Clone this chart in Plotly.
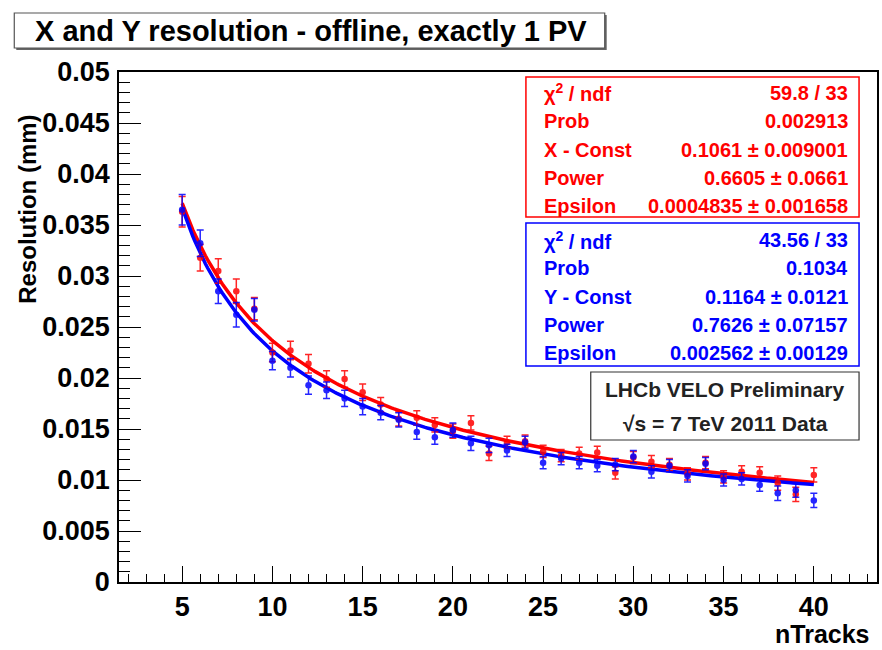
import numpy as np
import plotly.graph_objects as go

# nTracks bins
n_tracks = list(range(5, 41))

# X resolution (mm) per bin, with errors
res_x = [0.0363, 0.0318, 0.0305, 0.0285, 0.0268, 0.0225, 0.0227, 0.0214, 0.0199, 0.0199,
         0.0186, 0.0174, 0.0160, 0.0161, 0.0154, 0.0148, 0.0156, 0.0126, 0.0137, 0.0138,
         0.0128, 0.0124, 0.0126, 0.0127, 0.0107, 0.0122, 0.0118, 0.0115, 0.0106, 0.0117,
         0.0103, 0.0108, 0.0107, 0.0097, 0.0086, 0.0105]
err_x = [0.0015, 0.0013, 0.0012, 0.0012, 0.0011, 0.0009, 0.0009, 0.0009, 0.0008, 0.0008,
         0.0008, 0.0007, 0.0007, 0.0007, 0.0007, 0.0007, 0.0007, 0.0007, 0.0006, 0.0006,
         0.0006, 0.0006, 0.0006, 0.0006, 0.0006, 0.0006, 0.0006, 0.0006, 0.0006, 0.0006,
         0.0006, 0.0006, 0.0006, 0.0007, 0.0007, 0.0007]

# Y resolution (mm) per bin, with errors
res_y = [0.0365, 0.0332, 0.0285, 0.0262, 0.0267, 0.0217, 0.0210, 0.0193, 0.0188, 0.0180,
         0.0172, 0.0166, 0.0159, 0.0147, 0.0142, 0.0149, 0.0136, 0.0134, 0.0129, 0.0137,
         0.0117, 0.0121, 0.0117, 0.0114, 0.0115, 0.0123, 0.0108, 0.0114, 0.0104, 0.0116,
         0.0100, 0.0101, 0.0095, 0.0087, 0.0090, 0.0080]
err_y = [0.0015, 0.0013, 0.0012, 0.0012, 0.0011, 0.0009, 0.0009, 0.0009, 0.0008, 0.0008,
         0.0008, 0.0007, 0.0007, 0.0007, 0.0007, 0.0007, 0.0007, 0.0007, 0.0006, 0.0006,
         0.0006, 0.0006, 0.0006, 0.0006, 0.0006, 0.0006, 0.0006, 0.0006, 0.0006, 0.0006,
         0.0006, 0.0006, 0.0006, 0.0007, 0.0007, 0.0007]

# Fit results: sigma(n) = Const / n^Power + Epsilon
fit_x = {"const": 0.1061, "power": 0.6605, "eps": 0.0004835}
fit_y = {"const": 0.1164, "power": 0.7626, "eps": 0.002562}

stats_x = [("χ<sup>2</sup> / ndf", "59.8 / 33"),
           ("Prob", "0.002913"),
           ("X - Const", "0.1061 ± 0.009001"),
           ("Power", "0.6605 ± 0.0661"),
           ("Epsilon", "0.0004835 ± 0.001658")]
stats_y = [("χ<sup>2</sup> / ndf", "43.56 / 33"),
           ("Prob", "0.1034"),
           ("Y - Const", "0.1164 ± 0.0121"),
           ("Power", "0.7626 ± 0.07157"),
           ("Epsilon", "0.002562 ± 0.00129")]

W, H = 882, 650
L, R, T, B = 119, 879, 72, 582  # frame edges in pixels

def px(x):
    return (x - L) / (R - L)

def py(y):
    return (B - y) / (B - T)

FONT = "Liberation Sans"
RED = "#ff0000"
BLUE = "#0000ff"

fig = go.Figure()

n_fine = np.linspace(5, 40, 300)
for fit, col in ((fit_x, RED), (fit_y, BLUE)):
    curve = fit["const"] / n_fine ** fit["power"] + fit["eps"]
    fig.add_trace(go.Scatter(x=n_fine, y=curve, mode="lines",
                             line=dict(color=col, width=3.5), hoverinfo="skip",
                             showlegend=False))

for vals, errs, col in ((res_x, err_x, RED), (res_y, err_y, BLUE)):
    fig.add_trace(go.Scatter(
        x=n_tracks, y=vals, mode="markers",
        marker=dict(color=col, size=6.5, symbol="circle"),
        error_y=dict(type="data", array=errs, visible=True, color=col,
                     thickness=1.5, width=3.5),
        opacity=0.85, showlegend=False))

shapes = []
annotations = []

# Title pave with shadow
shapes.append(dict(type="rect", xref="paper", yref="paper",
                   x0=px(16), x1=px(608), y0=py(15), y1=py(50),
                   line=dict(width=0), fillcolor="#666666", layer="above"))
shapes.append(dict(type="rect", xref="paper", yref="paper",
                   x0=px(14), x1=px(606), y0=py(13), y1=py(48),
                   line=dict(color="#555555", width=1.2), fillcolor="white", layer="above"))
annotations.append(dict(xref="paper", yref="paper", x=px(312), y=py(31),
                        text="<b>X and Y resolution - offline, exactly 1 PV</b>",
                        showarrow=False, xanchor="center", yanchor="middle",
                        font=dict(family=FONT, size=29, color="black")))

# Fit statistics boxes
def stat_box(rows, col, y0, y1, first_line):
    shapes.append(dict(type="rect", xref="paper", yref="paper",
                       x0=px(527), x1=px(861), y0=py(y0), y1=py(y1),
                       line=dict(color=col, width=1.5), fillcolor="white",
                       layer="above"))
    for i, (lab, val) in enumerate(rows):
        yy = first_line + i * 28.3
        annotations.append(dict(xref="paper", yref="paper", x=px(543), y=py(yy),
                                text="<b>%s</b>" % lab, showarrow=False,
                                xanchor="left", yanchor="middle",
                                font=dict(family=FONT, size=20, color=col)))
        annotations.append(dict(xref="paper", yref="paper", x=px(852), y=py(yy),
                                text="<b>%s</b>" % val, showarrow=False,
                                xanchor="right", yanchor="middle",
                                font=dict(family=FONT, size=20, color=col)))

stat_box(stats_x, RED, 77, 217, 93)
stat_box(stats_y, BLUE, 223, 366, 240)

# Experiment label pave
shapes.append(dict(type="rect", xref="paper", yref="paper",
                   x0=px(592), x1=px(861), y0=py(372), y1=py(440),
                   line=dict(color="#333333", width=1.2), fillcolor="white",
                   layer="above"))
annotations.append(dict(xref="paper", yref="paper", x=px(727), y=py(389),
                        text="<b>LHCb VELO Preliminary</b>", showarrow=False,
                        xanchor="center", yanchor="middle",
                        font=dict(family=FONT, size=21, color="#222222")))
annotations.append(dict(xref="paper", yref="paper", x=px(727), y=py(423),
                        text="<b>√s = 7 TeV 2011 Data</b>", showarrow=False,
                        xanchor="center", yanchor="middle",
                        font=dict(family=FONT, size=21, color="#222222")))

# Axis titles
annotations.append(dict(xref="paper", yref="paper", x=px(874), y=py(634),
                        text="<b>nTracks</b>", showarrow=False,
                        xanchor="right", yanchor="middle",
                        font=dict(family=FONT, size=25, color="black")))
annotations.append(dict(xref="paper", yref="paper", x=px(27), y=py(306),
                        text="<b>Resolution (mm)</b>", showarrow=False,
                        textangle=-90, xanchor="center", yanchor="bottom",
                        font=dict(family=FONT, size=24, color="black")))

axis_common = dict(showgrid=False, zeroline=False, showline=True, mirror=True,
                   linecolor="black", linewidth=1.5, ticks="inside",
                   tickcolor="black", tickwidth=1.2,
                   tickfont=dict(family=FONT, size=27, color="black", weight="bold"))

fig.update_layout(
    width=W, height=H,
    margin=dict(l=L, r=W - R, t=T, b=H - B),
    paper_bgcolor="white", plot_bgcolor="white",
    shapes=shapes, annotations=annotations,
    xaxis=dict(range=[1.5, 43.5], tick0=0, dtick=5, ticklen=16,
               minor=dict(dtick=1, ticklen=8, ticks="inside", tickcolor="black",
                          tickwidth=1.2),
               tickformat="d", **axis_common),
    yaxis=dict(range=[0, 0.05], tick0=0, dtick=0.005, ticklen=22,
               minor=dict(dtick=0.001, ticklen=11, ticks="inside", tickcolor="black",
                          tickwidth=1.2),
               tickformat="~g", **axis_common),
)
fig.update_xaxes(ticklabelstandoff=0)
fig.update_yaxes(ticklabelstandoff=2)

fig.write_html("out.html")
